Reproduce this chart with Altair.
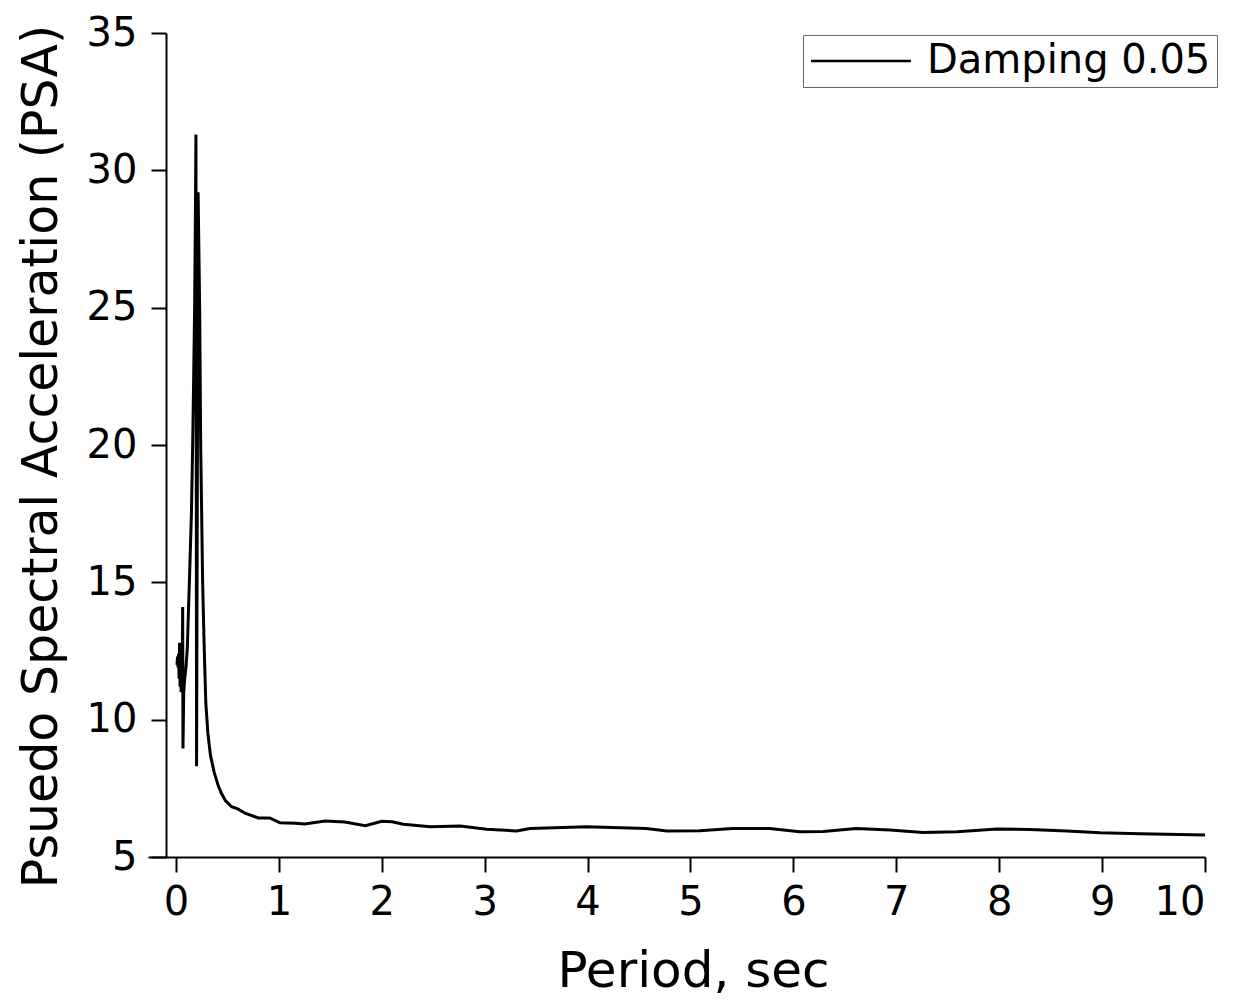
import altair as alt
import pandas as pd

period = [0.01, 0.015, 0.02, 0.025, 0.03, 0.035, 0.04, 0.045, 0.05, 0.055,
          0.06, 0.065, 0.068, 0.075, 0.085, 0.097, 0.11, 0.13, 0.15, 0.162,
          0.172, 0.181, 0.188, 0.194, 0.200, 0.215, 0.23, 0.24, 0.259, 0.275,
          0.29, 0.31, 0.335, 0.37, 0.41, 0.44, 0.48, 0.54, 0.6, 0.67,
          0.8, 0.91, 1.01, 1.16, 1.25, 1.45, 1.64, 1.84, 2.0, 2.1,
          2.21, 2.47, 2.76, 3.02, 3.31, 3.44, 3.99, 4.57, 4.77, 5.09,
          5.41, 5.77, 6.06, 6.29, 6.61, 6.94, 7.26, 7.59, 7.98, 8.3,
          8.66, 8.98, 9.37, 10.0]
psa = [12.0, 12.3, 11.9, 12.4, 11.5, 12.8, 11.2, 12.6, 11.0, 12.2,
       11.6, 14.1, 8.95, 11.0, 11.5, 11.9, 12.6, 15.0, 17.5, 20.0,
       22.5, 25.0, 28.0, 31.3, 8.3, 29.2, 25.0, 20.0, 15.0, 12.5,
       10.6, 9.5, 8.7, 8.1, 7.6, 7.33, 7.05, 6.83, 6.75, 6.6,
       6.42, 6.42, 6.25, 6.23, 6.2, 6.31, 6.27, 6.14, 6.3, 6.28,
       6.19, 6.1, 6.13, 6.01, 5.95, 6.04, 6.1, 6.04, 5.95, 5.96,
       6.04, 6.04, 5.92, 5.93, 6.04, 5.98, 5.89, 5.92, 6.02, 6.0,
       5.95, 5.88, 5.85, 5.8]
series_name = "Damping 0.05"
x_ticks = [0, 1, 2, 3, 4, 5, 6, 7, 8, 9, 10]
y_ticks = [5, 10, 15, 20, 25, 30, 35]

df = pd.DataFrame({"period": period, "psa": psa, "series": series_name})

FONT = "DejaVu Sans"

chart = alt.Chart(df).mark_line(strokeWidth=3, color="black").encode(
    x=alt.X("period:Q",
            scale=alt.Scale(domain=[-0.272, 10], nice=False, zero=False),
            axis=alt.Axis(title="Period, sec", values=x_ticks, format="d",
                          labelFontSize=40, titleFontSize=50, titleFontWeight="normal",
                          labelPadding=10, titlePadding=24, titleX=545,
                          tickSize=15, tickWidth=2, domainWidth=2,
                          domainColor="black", tickColor="black",
                          labelColor="black", titleColor="black",
                          labelFont=FONT, titleFont=FONT, grid=False)),
    y=alt.Y("psa:Q",
            scale=alt.Scale(domain=[5, 35], nice=False, zero=False),
            axis=alt.Axis(title="Psuedo Spectral Acceleration (PSA)", values=y_ticks,
                          labelFontSize=40, titleFontSize=49, titleFontWeight="normal",
                          labelPadding=14, titlePadding=20, titleY=423, offset=-18,
                          tickSize=15, tickWidth=2, domainWidth=2,
                          domainColor="black", tickColor="black",
                          labelColor="black", titleColor="black",
                          labelFont=FONT, titleFont=FONT, grid=False)),
    color=alt.Color("series:N",
                    scale=alt.Scale(domain=[series_name], range=["black"]),
                    legend=alt.Legend(title=None, orient="none", legendX=655, legendY=2,
                                      symbolType="M-10,0H10", symbolSize=100,
                                      symbolOffset=32,
                                      symbolStrokeWidth=2.5, labelFontSize=40,
                                      labelFont=FONT, labelColor="black",
                                      labelOffset=46, labelLimit=0, padding=6,
                                      strokeColor="#666666", fillColor="white",
                                      cornerRadius=0)),
).properties(
    width=1057, height=824,
    padding={"left": 140, "top": 25, "right": 30, "bottom": 142},
    autosize=alt.AutoSizeParams(type="none"),
).configure_view(stroke=None)

chart.save("out.html", embed_options={"renderer": "svg", "actions": False})
